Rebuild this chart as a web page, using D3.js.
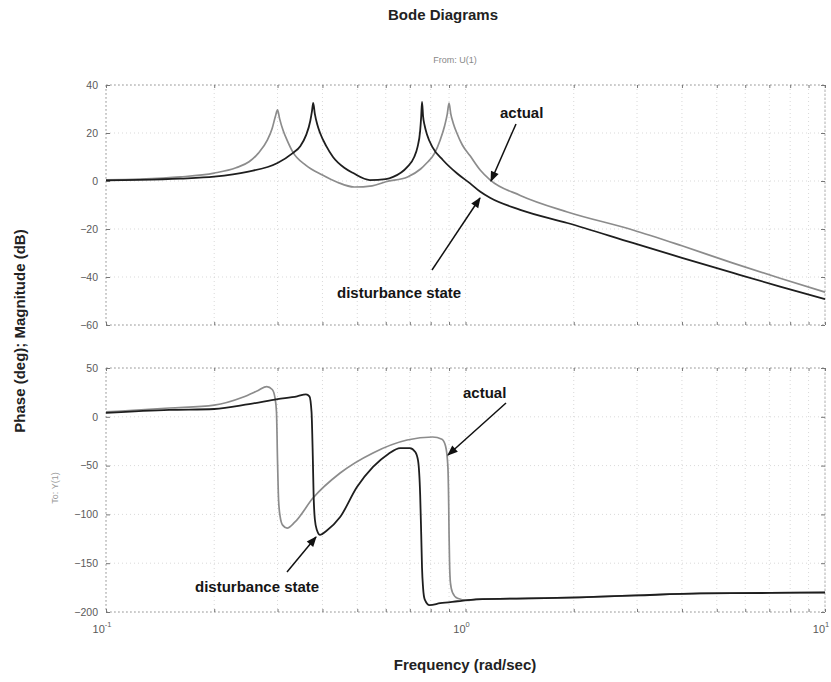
<!DOCTYPE html>
<html><head><meta charset="utf-8">
<script src="https://cdn.jsdelivr.net/npm/d3@7"></script>
<style>
html,body{margin:0;padding:0;background:#fff;}
svg{display:block;font-family:"Liberation Sans",Arial,Helvetica,sans-serif;}
</style></head><body>
<svg id="chart" width="831" height="682"></svg>
<script>
// Magnitude responses (rad/sec, dB)
const magFreqActual = [0.1, 0.124, 0.161, 0.2, 0.23, 0.25, 0.265, 0.281, 0.29, 0.296, 0.3, 0.304, 0.311, 0.32, 0.331, 0.36, 0.4, 0.44, 0.49, 0.55, 0.6, 0.69, 0.75, 0.78, 0.82, 0.85, 0.875, 0.89, 0.9, 0.91, 0.925, 0.946, 0.98, 1.03, 1.1, 1.17, 1.42, 1.92, 2.92, 4, 5.55, 7.5, 10];
const magActual = [0.5, 0.8, 1.7, 3.3, 5.5, 8, 11.5, 17, 22, 27, 29.6, 26, 21, 16.5, 12, 6.5, 2.5, -0.5, -2.5, -2, -0.3, 1.7, 5, 7.5, 11.5, 17, 23, 28, 32.5, 28, 24, 20, 15, 10.5, 4.5, 0.5, -6, -12.9, -20.4, -27, -34.2, -40.5, -46.3];
const magFreqDisturb = [0.1, 0.124, 0.161, 0.2, 0.247, 0.3, 0.33, 0.347, 0.36, 0.37, 0.374, 0.377, 0.381, 0.387, 0.394, 0.41, 0.428, 0.46, 0.487, 0.542, 0.6, 0.629, 0.688, 0.72, 0.735, 0.748, 0.753, 0.757, 0.762, 0.77, 0.781, 0.81, 0.865, 0.95, 1.03, 1.1, 1.17, 1.42, 1.92, 2.92, 4, 5.55, 7.5, 10];
const magDisturb = [0.3, 0.5, 1.0, 1.8, 3.8, 7.5, 11.5, 14.5, 19, 25, 29, 32.5, 28, 23.5, 20, 14.5, 10, 5.5, 3.3, 0.4, 0.8, 1.7, 5.8, 10, 14, 21, 27, 33, 27, 23, 19.5, 14, 8.75, 3, -1, -4.5, -7, -12, -17.5, -25.8, -32, -38.3, -44, -49.2];

// Phase responses (rad/sec, deg)
const phaseFreqActual = [0.1, 0.15, 0.2, 0.24, 0.265, 0.28, 0.29, 0.295, 0.298, 0.3, 0.302, 0.305, 0.31, 0.319, 0.335, 0.377, 0.448, 0.553, 0.688, 0.81, 0.86, 0.88, 0.893, 0.898, 0.9, 0.903, 0.908, 0.92, 0.95, 1.01, 1.07, 1.5, 2.08, 3, 4.5, 7, 10];
const phaseActual = [5, 9, 12, 20, 27, 31, 28, 20, 5, -45, -85, -102, -111, -114, -108, -83, -57.6, -37, -23.8, -20.7, -23, -30, -50, -90, -120, -150, -170, -180, -186, -188, -187, -186, -185, -183, -181, -180.5, -180];
const phaseFreqDisturb = [0.1, 0.15, 0.2, 0.25, 0.3, 0.34, 0.36, 0.368, 0.373, 0.376, 0.378, 0.381, 0.386, 0.394, 0.41, 0.448, 0.499, 0.553, 0.61, 0.658, 0.7, 0.725, 0.738, 0.748, 0.753, 0.757, 0.762, 0.77, 0.795, 0.85, 0.95, 1.07, 1.5, 2.08, 3, 4.5, 7, 10];
const phaseDisturb = [4, 7, 8, 13, 18, 21, 23, 21, 5, -40, -80, -105, -116, -121, -117, -102.7, -72, -51.4, -38, -32, -32, -36, -45, -80, -120, -155, -175, -187, -193, -191, -189, -187, -186, -185, -183, -181, -180.5, -180];

// Axis ticks
const magTicks = [40, 20, 0, -20, -40, -60];
const phaseTicks = [50, 0, -50, -100, -150, -200];
const freqTicks = [{v: 0.1, exp: "-1"}, {v: 1, exp: "0"}, {v: 10, exp: "1"}];

const svg = d3.select("#chart");
const plotLeft = 106, plotRight = 825;
const magTop = 85, magBottom = 325, phaseTop = 368, phaseBottom = 612;

const x = d3.scaleLog().domain([0.1, 10]).range([plotLeft, plotRight]);
const yMag = d3.scaleLinear().domain([-60, 40]).range([magBottom, magTop]);
const yPhase = d3.scaleLinear().domain([-200, 50]).range([phaseBottom, phaseTop]);

const gridColor = "#cfcfcf";
const tickColor = "#777";
const labelColor = "#5a5a5a";

function drawPanel(y, ticks, top, bottom) {
  const g = svg.append("g");
  // grid (log minor lines included)
  const gridFreqs = x.ticks();
  g.selectAll(".vg").data(gridFreqs).join("line")
    .attr("x1", d => x(d)).attr("x2", d => x(d))
    .attr("y1", top).attr("y2", bottom)
    .attr("stroke", gridColor).attr("stroke-width", 0.8).attr("stroke-dasharray", "1,3");
  g.selectAll(".hg").data(ticks).join("line")
    .attr("x1", plotLeft).attr("x2", plotRight)
    .attr("y1", d => y(d)).attr("y2", d => y(d))
    .attr("stroke", gridColor).attr("stroke-width", 0.8).attr("stroke-dasharray", "1,3");
  // frame
  g.append("rect").attr("x", plotLeft).attr("y", top)
    .attr("width", plotRight - plotLeft).attr("height", bottom - top)
    .attr("fill", "none").attr("stroke", "#a5a5a5").attr("stroke-width", 0.9).attr("stroke-dasharray", "2,2");
  // left axis
  const ax = g.append("g").attr("transform", `translate(${plotLeft},0)`)
    .call(d3.axisLeft(y).tickValues(ticks).tickSizeInner(-4).tickSizeOuter(0).tickPadding(8));
  ax.select(".domain").remove();
  ax.selectAll("line").attr("stroke", tickColor);
  ax.selectAll("text").attr("fill", labelColor).attr("font-size", 10.5);
  // right ticks
  const axr = g.append("g").attr("transform", `translate(${plotRight},0)`)
    .call(d3.axisRight(y).tickValues(ticks).tickSizeInner(-4).tickSizeOuter(0).tickFormat(""));
  axr.select(".domain").remove();
  axr.selectAll("line").attr("stroke", tickColor);
  // bottom / top ticks
  const axb = g.append("g").attr("transform", `translate(0,${bottom})`)
    .call(d3.axisBottom(x).tickValues(gridFreqs).tickSizeInner(-3).tickSizeOuter(0).tickFormat(""));
  axb.select(".domain").remove();
  axb.selectAll("line").attr("stroke", tickColor);
  const axt = g.append("g").attr("transform", `translate(0,${top})`)
    .call(d3.axisTop(x).tickValues(gridFreqs).tickSizeInner(-3).tickSizeOuter(0).tickFormat(""));
  axt.select(".domain").remove();
  axt.selectAll("line").attr("stroke", tickColor);
  return g;
}

drawPanel(yMag, magTicks, magTop, magBottom);
drawPanel(yPhase, phaseTicks, phaseTop, phaseBottom);

function series(freqs, vals) { return freqs.map((f, i) => [f, vals[i]]); }

function drawCurve(y, data, color, width) {
  const line = d3.line().x(d => x(d[0])).y(d => y(d[1])).curve(d3.curveMonotoneX);
  svg.append("path").datum(data).attr("d", line)
    .attr("fill", "none").attr("stroke", color).attr("stroke-width", width)
    .attr("stroke-linejoin", "round");
}

const actualColor = "#8c8c8c", disturbColor = "#1e1e1e";
drawCurve(yMag, series(magFreqActual, magActual), actualColor, 1.7);
drawCurve(yMag, series(magFreqDisturb, magDisturb), disturbColor, 1.8);
drawCurve(yPhase, series(phaseFreqActual, phaseActual), actualColor, 1.7);
drawCurve(yPhase, series(phaseFreqDisturb, phaseDisturb), disturbColor, 1.8);

// x tick labels 10^k
freqTicks.forEach(t => {
  const tx = svg.append("text").attr("x", x(t.v) - 4).attr("y", 633)
    .attr("text-anchor", "middle").attr("fill", labelColor).attr("font-size", 11);
  tx.append("tspan").text("10");
  tx.append("tspan").attr("dy", -6).attr("font-size", 7.5).text(t.exp);
});

// titles
svg.append("text").attr("x", 443).attr("y", 20).attr("text-anchor", "middle")
  .attr("font-size", 15).attr("font-weight", "bold").attr("fill", "#222").text("Bode Diagrams");
svg.append("text").attr("x", 455).attr("y", 63).attr("text-anchor", "middle")
  .attr("font-size", 9).attr("fill", "#888").text("From: U(1)");
svg.append("text").attr("x", 465).attr("y", 670).attr("text-anchor", "middle")
  .attr("font-size", 15).attr("font-weight", "bold").attr("fill", "#222").text("Frequency (rad/sec)");
svg.append("text").attr("transform", "translate(25,331) rotate(-90)").attr("text-anchor", "middle")
  .attr("font-size", 15).attr("font-weight", "bold").attr("fill", "#222").text("Phase (deg); Magnitude (dB)");
svg.append("text").attr("transform", "translate(58,488) rotate(-90)").attr("text-anchor", "middle")
  .attr("font-size", 9).attr("fill", "#999").text("To: Y(1)");

// annotations
svg.append("defs").append("marker").attr("id", "head")
  .attr("viewBox", "0 0 10 10").attr("refX", 9).attr("refY", 5)
  .attr("markerWidth", 9).attr("markerHeight", 7).attr("orient", "auto")
  .append("path").attr("d", "M0,1 L10,5 L0,9 Z").attr("fill", "#111");

function note(label, tx, ty, x1, y1, x2, y2) {
  svg.append("text").attr("x", tx).attr("y", ty).attr("font-size", 15).attr("font-weight", "bold")
    .attr("fill", "#151515").text(label);
  svg.append("line").attr("x1", x1).attr("y1", y1).attr("x2", x2).attr("y2", y2)
    .attr("stroke", "#111").attr("stroke-width", 1.5).attr("marker-end", "url(#head)");
}
note("actual", 500, 118, 516, 124, 491, 181);
note("disturbance state", 337, 298, 432, 270, 480, 198);
note("actual", 463, 398, 506, 403, 448, 455);
note("disturbance state", 195, 592, 287, 572, 316, 537);
</script></body></html>
